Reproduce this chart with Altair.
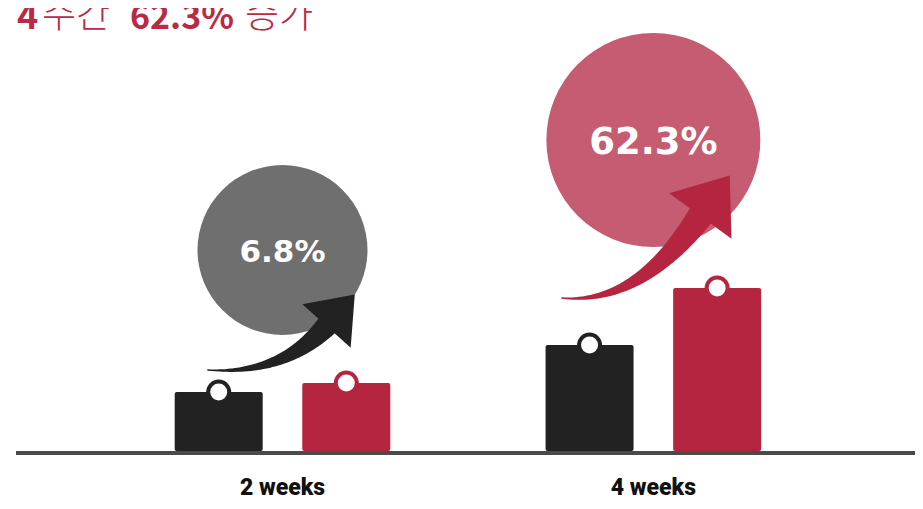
import altair as alt
import pandas as pd
import numpy as np

# ---------------- data ----------------
categories = ["2 weeks", "4 weeks"]
before_values = [59, 106]     # dark bars
after_values = [68, 163]      # red bars
growth_labels = ["6.8%", "62.3%"]
title_parts = ["4", "주간", "62.3%", "증가"]
title_bold = [True, False, True, False]

# ---------------- layout / style ----------------
W, H = 907, 493
STEP = 375.0          # px between group centers
FIRST = 272.5         # px of first group center
BASE = 443            # px of the zero line
BAR_OFF = 64.5
BAR_W = 88

BLACK = "#222222"
RED = "#b5253f"
GRAY = "#6f6f6f"
PINK = "#c55c71"
TITLE_C = "#b92b45"
AXIS_C = "#4a4a4a"

bubble_y = [201, 311]
bubble_d = [170, 214]
bubble_c = [GRAY, PINK]
label_size = [31, 37]
arrow_specs = [
    dict(T=(-75.5, 81), C=(-0.5, 76), B=(44.5, 125), w0=1.5, w1=22, angle=42, head=65, color=BLACK),
    dict(T=(-92.5, 153), C=(-15.5, 146), B=(47.5, 235), w0=1.5, w1=26, angle=36, head=77, color=RED),
]
title_x = [9, 34, 122, 237]
title_size = [36, 37, 34, 37]
title_y = [21, 20, 21, 20]
HEAD_PATH = "M-1,0L1,0L0,-1.3Z"

xs = alt.Scale(domain=[-FIRST / STEP, (W - FIRST) / STEP])
ys = alt.Scale(domain=[BASE - H, BASE])
X = lambda f: alt.X(f, type="quantitative", scale=xs, axis=None)
Y = lambda f: alt.Y(f, type="quantitative", scale=ys, axis=None)

# bars
bar_rows = []
for i, c in enumerate(categories):
    bar_rows.append(dict(cat=c, s="before", x=i - BAR_OFF / STEP, v=before_values[i]))
    bar_rows.append(dict(cat=c, s="after", x=i + BAR_OFF / STEP, v=after_values[i]))
bar_df = pd.DataFrame(bar_rows)
ser_scale = alt.Scale(domain=["before", "after"], range=[BLACK, RED])

bars = alt.Chart(bar_df).mark_bar(size=BAR_W, cornerRadius=2).encode(
    x=X("x"), y=Y("v"), y2=alt.datum(0),
    color=alt.Color("s:N", scale=ser_scale, legend=None),
)
knobs = alt.Chart(bar_df).mark_point(
    shape="circle", fill="white", fillOpacity=1, size=441, strokeWidth=4, opacity=1
).encode(
    x=X("x"), y=Y("v"),
    stroke=alt.Stroke("s:N", scale=ser_scale, legend=None),
)

# bubbles
bub_df = pd.DataFrame(dict(x=[0, 1], y=bubble_y, s=[d * d for d in bubble_d], c=bubble_c))
bubbles = alt.Chart(bub_df).mark_point(shape="circle", filled=True, opacity=1).encode(
    x=X("x"), y=Y("y"),
    size=alt.Size("s:Q", scale=None),
    color=alt.Color("c:N", scale=None),
)

# arrows (decorative tapered curves)
trail_rows, head_rows = [], []
for i, a in enumerate(arrow_specs):
    T, C, B = [np.array(p, dtype=float) for p in (a["T"], a["C"], a["B"])]
    for t in np.linspace(0, 1, 40):
        p = (1 - t) ** 2 * T + 2 * (1 - t) * t * C + t ** 2 * B
        trail_rows.append(dict(g=i, t=t, x=i + p[0] / STEP, y=p[1],
                               w=a["w0"] + (a["w1"] - a["w0"]) * t ** 1.3, c=a["color"]))
    head_rows.append(dict(x=i + B[0] / STEP, y=B[1], a=a["angle"], s=a["head"] ** 2, c=a["color"]))
trail_df = pd.DataFrame(trail_rows)
head_df = pd.DataFrame(head_rows)

trails = alt.Chart(trail_df).mark_trail().encode(
    x=X("x"), y=Y("y"),
    size=alt.Size("w:Q", scale=None),
    color=alt.Color("c:N", scale=None),
    detail="g:N", order="t:Q",
)
heads = alt.Chart(head_df).mark_point(shape=HEAD_PATH, filled=True, opacity=1).encode(
    x=X("x"), y=Y("y"),
    angle=alt.Angle("a:Q", scale=None),
    size=alt.Size("s:Q", scale=None),
    color=alt.Color("c:N", scale=None),
)

# percentage labels
pct_layers = []
for i, lab in enumerate(growth_labels):
    d = pd.DataFrame(dict(x=[i], y=[bubble_y[i] - 2.5], t=[lab]))
    pct_layers.append(
        alt.Chart(d).mark_text(font="DejaVu Sans", fontWeight="bold", fontSize=label_size[i],
                               color="white", align="center", baseline="middle").encode(
            x=X("x"), y=Y("y"), text="t:N")
    )

# category labels
cat_df = pd.DataFrame(dict(x=[0, 1], y=[-44, -44], t=categories))
cat_text = alt.Chart(cat_df).mark_text(font="Roboto", fontWeight=900, fontSize=23,
                                       color="#111111", align="center", baseline="alphabetic").encode(
    x=X("x"), y=Y("y"), text="t:N")

# baseline
rule = alt.Chart(pd.DataFrame(dict(y=[-2]))).mark_rule(color=AXIS_C, strokeWidth=4).encode(
    y=Y("y"), x=alt.value(8), x2=alt.value(W))

# title
title_layers = []
for part, bold, tx, fs, ty in zip(title_parts, title_bold, title_x, title_size, title_y):
    title_layers.append(
        alt.Chart(pd.DataFrame(dict(t=[part]))).mark_text(
            font="Noto Sans CJK KR", fontWeight="bold" if bold else 300, fontSize=fs,
            color=TITLE_C, align="left", baseline="alphabetic").encode(
            x=alt.value(tx), y=alt.value(ty), text="t:N")
    )

chart = alt.layer(
    rule, bubbles, trails, heads, *pct_layers, bars, knobs, cat_text, *title_layers
).properties(
    width=W, height=H, padding=0, autosize=alt.AutoSizeParams(type="none")
).configure_view(stroke=None)

chart.save("out.html", embed_options={"renderer": "svg", "actions": False})
